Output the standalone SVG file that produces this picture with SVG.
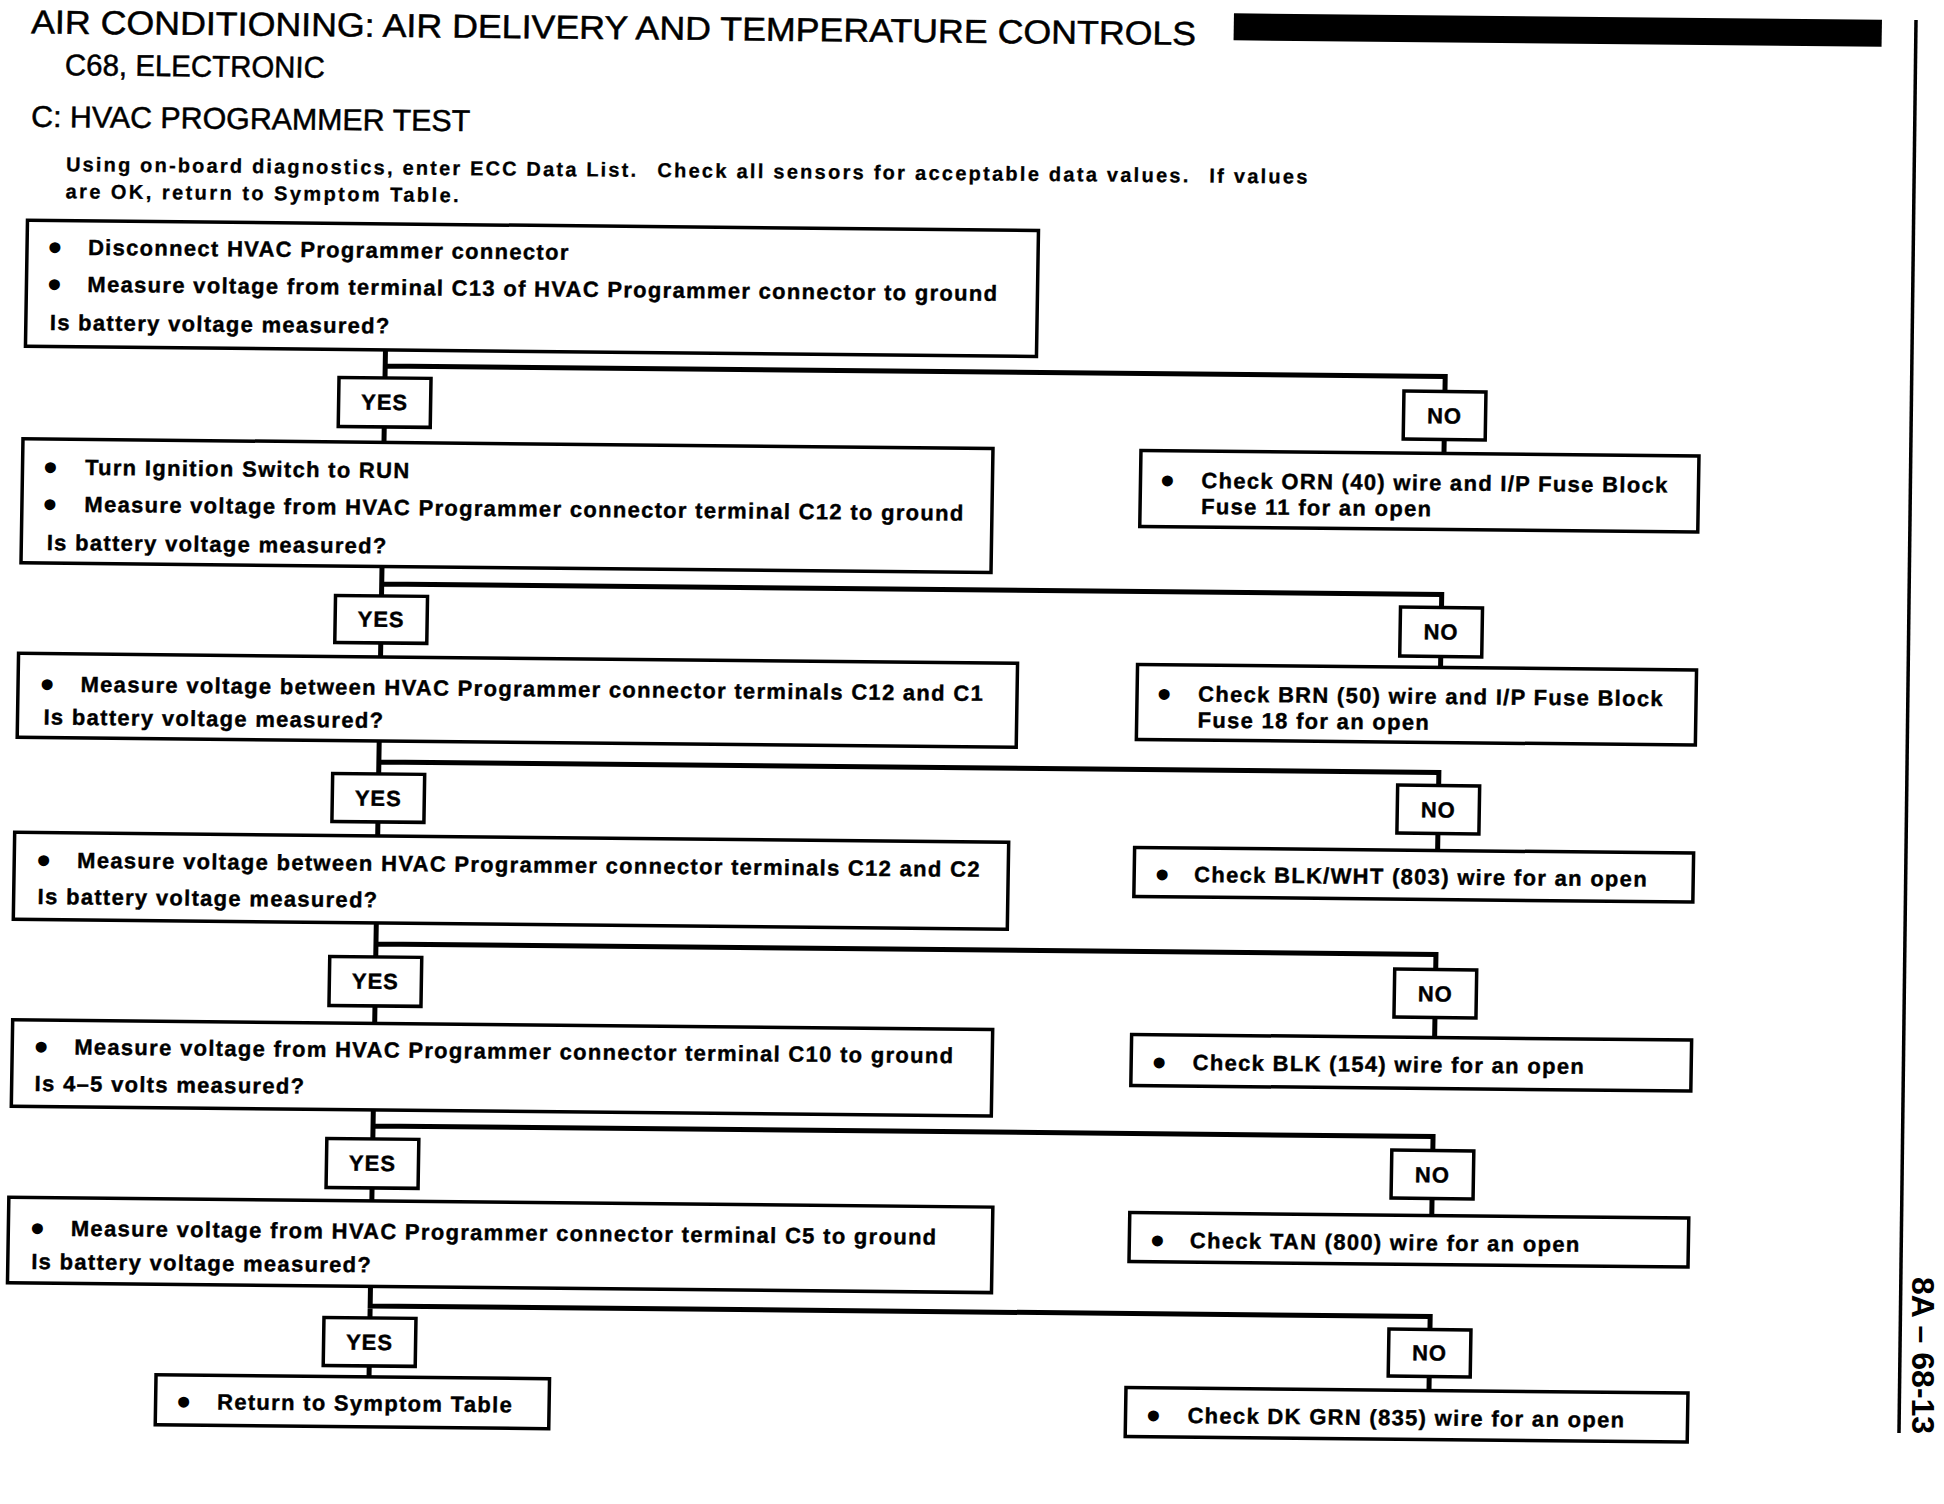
<svg xmlns="http://www.w3.org/2000/svg" width="1944" height="1504" viewBox="0 0 1944 1504">
<style>
  .bg { fill: #ffffff; }
  .box { fill: #ffffff; stroke: #000; stroke-width: 3.5; }
  .conn { fill: none; stroke: #000; stroke-width: 5; stroke-linecap: square; }
  .t { font-family: "Liberation Sans", Arial, Helvetica, sans-serif; font-weight: bold; font-size: 22px; letter-spacing: 1.3px; fill: #000; stroke: #000; stroke-width: 0.4px; }
  .bul { font-family: "Liberation Sans", Arial, Helvetica, sans-serif; font-weight: bold; font-size: 30px; fill: #000; stroke: #000; stroke-width: 2.4px; stroke-linejoin: round; text-anchor: middle; }
  .lbl { font-family: "Liberation Sans", Arial, Helvetica, sans-serif; font-weight: bold; font-size: 22px; letter-spacing: 1px; fill: #000; stroke: #000; stroke-width: 0.4px; text-anchor: middle; }
  .h { font-family: "Liberation Sans", Arial, Helvetica, sans-serif; font-weight: normal; fill: #000; stroke: #000; stroke-width: 0.5px; }
  .pg { font-family: "Liberation Sans", Arial, Helvetica, sans-serif; font-weight: bold; font-size: 32px; fill: #000; }
  .intro { font-family: "Liberation Sans", Arial, Helvetica, sans-serif; font-weight: bold; font-size: 20px; fill: #000; stroke: #000; stroke-width: 0.3px; }
</style>
<rect class="bg" x="0" y="0" width="1944" height="1504"/>

<g id="page" transform="matrix(1 0.01 -0.016 1 0 0)">
  <g id="header">
    <text class="h" x="31.5" y="33" font-size="33" textLength="1165" lengthAdjust="spacingAndGlyphs">AIR CONDITIONING: AIR DELIVERY AND TEMPERATURE CONTROLS</text>
    <rect x="1234" y="1" width="648" height="27" fill="#000"/>
    <text class="h" x="66" y="74.5" font-size="30" textLength="260" lengthAdjust="spacingAndGlyphs">C68, ELECTRONIC</text>
    <text class="h" x="33" y="126.5" font-size="30" textLength="439" lengthAdjust="spacingAndGlyphs">C: HVAC PROGRAMMER TEST</text>
    <text class="intro" x="68.7" y="170.5" textLength="570">Using on-board diagnostics, enter ECC Data List.</text>
    <text class="intro" x="660" y="170.5" textLength="531">Check all sensors for acceptable data values.</text>
    <text class="intro" x="1212" y="170.5" textLength="98">If values</text>
    <text class="intro" x="68.7" y="197.5" textLength="393">are OK, return to Symptom Table.</text>
  </g>

  <g id="connectors">
    <path class="conn" d="M391,346 V374 M391,362 H1451 V377 M391,423 V438.5 M1451,425 V439"/>
    <path class="conn" d="M391,562.5 V592 M391,580 H1451 V593 M391,639 V653 M1451,642 V653"/>
    <path class="conn" d="M391,737 V770 M391,758 H1451 V771 M391,818 V832 M1451,819 V836"/>
    <path class="conn" d="M391,919 V953 M391,940 H1451 V955 M391,1002 V1019.5 M1451,1003 V1023"/>
    <path class="conn" d="M391,1106 V1135 M391,1122 H1451 V1136 M391,1184 V1197 M1451,1184 V1201"/>
    <path class="conn" d="M391,1282.5 V1314 M391,1302 H1451 V1315 M391,1362 V1373 M1451,1362 V1376"/>
  </g>

  <g id="step1">
    <rect class="box" x="31" y="220" width="1011" height="126"/>
    <text class="bul" x="59" y="257">•</text>
    <text class="t" x="92" y="254">Disconnect HVAC Programmer connector</text>
    <text class="bul" x="59" y="294">•</text>
    <text class="t" x="92" y="291">Measure voltage from terminal C13 of HVAC Programmer connector to ground</text>
    <text class="t" x="55" y="329.5">Is battery voltage measured?</text>
  </g>
  <g id="yes1"><rect class="box" x="345" y="374" width="92" height="49"/><text class="lbl" x="391" y="406">YES</text></g>
  <g id="no1"><rect class="box" x="1410" y="377" width="82" height="48"/><text class="lbl" x="1451" y="409">NO</text></g>
  <g id="fix1">
    <rect class="box" x="1148" y="439" width="558" height="76"/>
    <text class="bul" x="1175" y="479">•</text>
    <text class="t" x="1209" y="476">Check ORN (40) wire and I/P Fuse Block</text>
    <text class="t" x="1209" y="502">Fuse 11 for an open</text>
  </g>

  <g id="step2">
    <rect class="box" x="30" y="438.5" width="970" height="124"/>
    <text class="bul" x="58" y="477">•</text>
    <text class="t" x="92.5" y="474">Turn Ignition Switch to RUN</text>
    <text class="bul" x="58" y="514">•</text>
    <text class="t" x="92.5" y="511">Measure voltage from HVAC Programmer connector terminal C12 to ground</text>
    <text class="t" x="55.5" y="549.5">Is battery voltage measured?</text>
  </g>
  <g id="yes2"><rect class="box" x="345" y="592" width="92" height="47"/><text class="lbl" x="391" y="623">YES</text></g>
  <g id="no2"><rect class="box" x="1410" y="593" width="82" height="49"/><text class="lbl" x="1451" y="625">NO</text></g>
  <g id="fix2">
    <rect class="box" x="1148" y="653" width="559" height="75"/>
    <text class="bul" x="1175" y="692.5">•</text>
    <text class="t" x="1209" y="689.5">Check BRN (50) wire and I/P Fuse Block</text>
    <text class="t" x="1209" y="715.5">Fuse 18 for an open</text>
  </g>

  <g id="step3">
    <rect class="box" x="29" y="653" width="999" height="84"/>
    <text class="bul" x="58" y="694">•</text>
    <text class="t" x="91.5" y="691">Measure voltage between HVAC Programmer connector terminals C12 and C1</text>
    <text class="t" x="55" y="724">Is battery voltage measured?</text>
  </g>
  <g id="yes3"><rect class="box" x="345" y="770" width="92" height="48"/><text class="lbl" x="391" y="802">YES</text></g>
  <g id="no3"><rect class="box" x="1410" y="771" width="82" height="48"/><text class="lbl" x="1451" y="803">NO</text></g>
  <g id="fix3">
    <rect class="box" x="1148" y="836" width="559" height="49"/>
    <text class="bul" x="1176" y="873">•</text>
    <text class="t" x="1208" y="870">Check BLK/WHT (803) wire for an open</text>
  </g>

  <g id="step4">
    <rect class="box" x="28" y="832" width="994" height="87"/>
    <text class="bul" x="57.5" y="870">•</text>
    <text class="t" x="91" y="867">Measure voltage between HVAC Programmer connector terminals C12 and C2</text>
    <text class="t" x="52" y="903.5">Is battery voltage measured?</text>
  </g>
  <g id="yes4"><rect class="box" x="345" y="953" width="92" height="49"/><text class="lbl" x="391" y="985">YES</text></g>
  <g id="no4"><rect class="box" x="1410" y="955" width="82" height="48"/><text class="lbl" x="1451" y="987">NO</text></g>
  <g id="fix4">
    <rect class="box" x="1148" y="1023" width="560" height="51"/>
    <text class="bul" x="1176" y="1061">•</text>
    <text class="t" x="1209.5" y="1058">Check BLK (154) wire for an open</text>
  </g>

  <g id="step5">
    <rect class="box" x="29" y="1019.5" width="980" height="86.5"/>
    <text class="bul" x="58" y="1056.5">•</text>
    <text class="t" x="91" y="1053.5">Measure voltage from HVAC Programmer connector terminal C10 to ground</text>
    <text class="t" x="52" y="1090.5">Is 4–5 volts measured?</text>
  </g>
  <g id="yes5"><rect class="box" x="345" y="1135" width="92" height="49"/><text class="lbl" x="391" y="1167">YES</text></g>
  <g id="no5"><rect class="box" x="1410" y="1136" width="82" height="48"/><text class="lbl" x="1451" y="1168">NO</text></g>
  <g id="fix5">
    <rect class="box" x="1149" y="1201" width="559" height="49"/>
    <text class="bul" x="1177" y="1239">•</text>
    <text class="t" x="1209.5" y="1236">Check TAN (800) wire for an open</text>
  </g>

  <g id="step6">
    <rect class="box" x="28" y="1197" width="984" height="85.5"/>
    <text class="bul" x="57" y="1238">•</text>
    <text class="t" x="90.5" y="1235">Measure voltage from HVAC Programmer connector terminal C5 to ground</text>
    <text class="t" x="51.5" y="1268.5">Is battery voltage measured?</text>
  </g>
  <g id="yes6"><rect class="box" x="345" y="1314" width="92" height="48"/><text class="lbl" x="391" y="1346">YES</text></g>
  <g id="no6"><rect class="box" x="1410" y="1315" width="82" height="47"/><text class="lbl" x="1451" y="1346">NO</text></g>
  <g id="fix6">
    <rect class="box" x="1148" y="1376" width="562" height="49"/>
    <text class="bul" x="1176" y="1414">•</text>
    <text class="t" x="1210" y="1411">Check DK GRN (835) wire for an open</text>
  </g>

  <g id="done">
    <rect class="box" x="178" y="1373" width="393.5" height="50"/>
    <text class="bul" x="206" y="1410">•</text>
    <text class="t" x="239.5" y="1407">Return to Symptom Table</text>
  </g>
</g>

<g id="margin">
  <line x1="1916" y1="20" x2="1899" y2="1433" stroke="#000" stroke-width="3.5"/>
  <text class="pg" transform="translate(1912,1277) rotate(90)">8A – 68-13</text>
</g>
</svg>
